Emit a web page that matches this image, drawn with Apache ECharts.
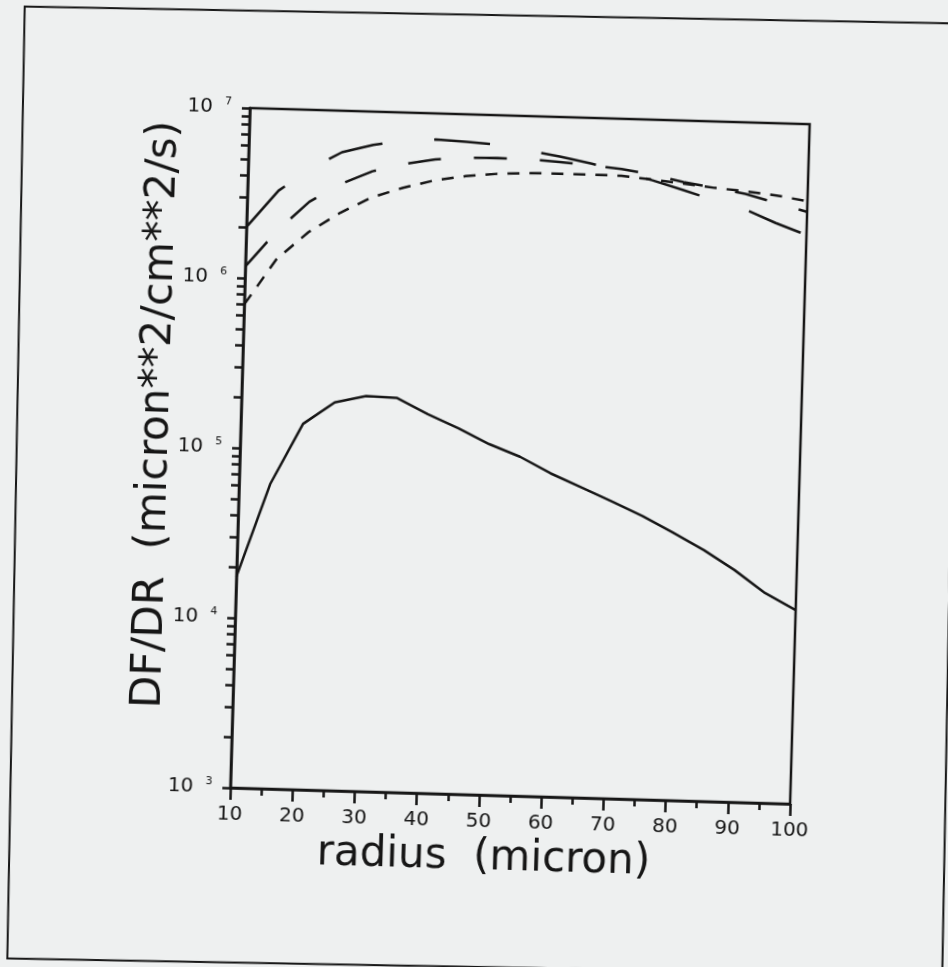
<!DOCTYPE html>
<html><head><meta charset="utf-8">
<script src="https://cdn.jsdelivr.net/npm/echarts@6/dist/echarts.min.js"></script>
<style>
html,body{margin:0;padding:0;width:948px;height:967px;overflow:hidden;background:#eef0f0;}
#c{position:absolute;left:-40px;top:-40px;width:1030px;height:1050px;transform-origin:560px 496px;transform:rotate(1.65deg);}
</style></head><body><div id="c"></div>
<script>
const radius = [10,15,20,25,30,35,40,45,50,55,60,65,70,75,80,85,90,95,100];
const solidFlux = [17500,62000,142000,192000,212000,209000,170000,142000,116000,99000,80000,67000,56000,46500,37500,30000,23200,17200,13800];
const longDashFlux = [2.0e6,3.31e6,4.5e6,5.7e6,6.38e6,6.79e6,7.03e6,6.89e6,6.7e6,6.28e6,5.86e6,5.4e6,4.91e6,4.4e6,3.9e6,3.44e6,3.08e6,2.59e6,2.23e6];
const mediumDashFlux = [1.17e6,1.93e6,2.88e6,3.72e6,4.46e6,4.97e6,5.37e6,5.55e6,5.6e6,5.57e6,5.44e6,5.26e6,5.06e6,4.74e6,4.35e6,4.07e6,3.8e6,3.4e6,3.05e6];
const shortDashFlux = [7.0e5,1.31e6,1.91e6,2.51e6,3.13e6,3.61e6,4.04e6,4.33e6,4.52e6,4.62e6,4.64e6,4.64e6,4.62e6,4.44e6,4.26e6,4.07e6,3.93e6,3.76e6,3.52e6];
const xTitle = 'radius  (micron)';
const yTitle = 'DF/DR  (micron**2/cm**2/s)';

const FONT = 'DejaVu Sans';
const INK = '#161616';
const pairs = ys => radius.map((r, i) => [r, ys[i]]);
const lineSeries = (name, ys, dash) => ({
  name, type: 'line', data: pairs(ys), symbol: 'none', smooth: false,
  lineStyle: { color: INK, width: 2.5, type: dash }
});

const chart = echarts.init(document.getElementById('c'), null, { renderer: 'canvas' });
chart.setOption({
  backgroundColor: 'transparent',
  animation: false,
  grid: { left: 280, top: 156, width: 560, height: 680, show: true, borderColor: INK, borderWidth: 2.5, backgroundColor: 'transparent' },
  xAxis: {
    type: 'value', min: 10, max: 100, interval: 10,
    axisLine: { show: true, onZero: false, lineStyle: { color: INK, width: 2.5 } },
    axisTick: { show: true, length: 12, lineStyle: { color: INK, width: 2.5 } },
    minorTick: { show: true, splitNumber: 2, length: 7, lineStyle: { color: INK, width: 2.5 } },
    splitLine: { show: false },
    axisLabel: { margin: 17, color: INK, fontFamily: FONT, fontSize: 20 }
  },
  yAxis: {
    type: 'log', logBase: 10, min: 1000, max: 1e7,
    axisLine: { show: true, lineStyle: { color: INK, width: 2.5 } },
    axisTick: { show: true, length: 8, lineStyle: { color: INK, width: 2.5 } },
    minorTick: { show: true, splitNumber: 9, length: 8, lineStyle: { color: INK, width: 2.5 } },
    splitLine: { show: false },
    axisLabel: {
      margin: 18, color: INK, fontFamily: FONT, fontSize: 20, lineHeight: 22,
      formatter: v => '10{e|' + Math.round(Math.log10(v)) + '}',
      rich: { e: { fontSize: 11, fontFamily: FONT, color: INK, verticalAlign: 'top', lineHeight: 12, padding: [0, 0, 0, 12] } }
    }
  },
  graphic: [
    { type: 'polygon', silent: true,
      shape: { points: [[52, 61], [987, 51], [997, 1003], [62, 1013]] },
      style: { fill: 'none', stroke: INK, lineWidth: 2 } },
    { type: 'text', silent: true, x: 196, y: 465, rotation: Math.PI / 2,
      style: { text: yTitle, fontFamily: FONT, fontSize: 42, fill: INK, align: 'center', verticalAlign: 'middle' } },
    { type: 'text', silent: true, x: 535, y: 899,
      style: { text: xTitle, fontFamily: FONT, fontSize: 42, fill: INK, align: 'center', verticalAlign: 'middle' } }
  ],
  series: [
    lineSeries('solid', solidFlux, 'solid'),
    lineSeries('long dash', longDashFlux, [56, 52]),
    lineSeries('medium dash', mediumDashFlux, [33, 33]),
    lineSeries('short dash', shortDashFlux, [12, 10])
  ]
});
</script></body></html>
